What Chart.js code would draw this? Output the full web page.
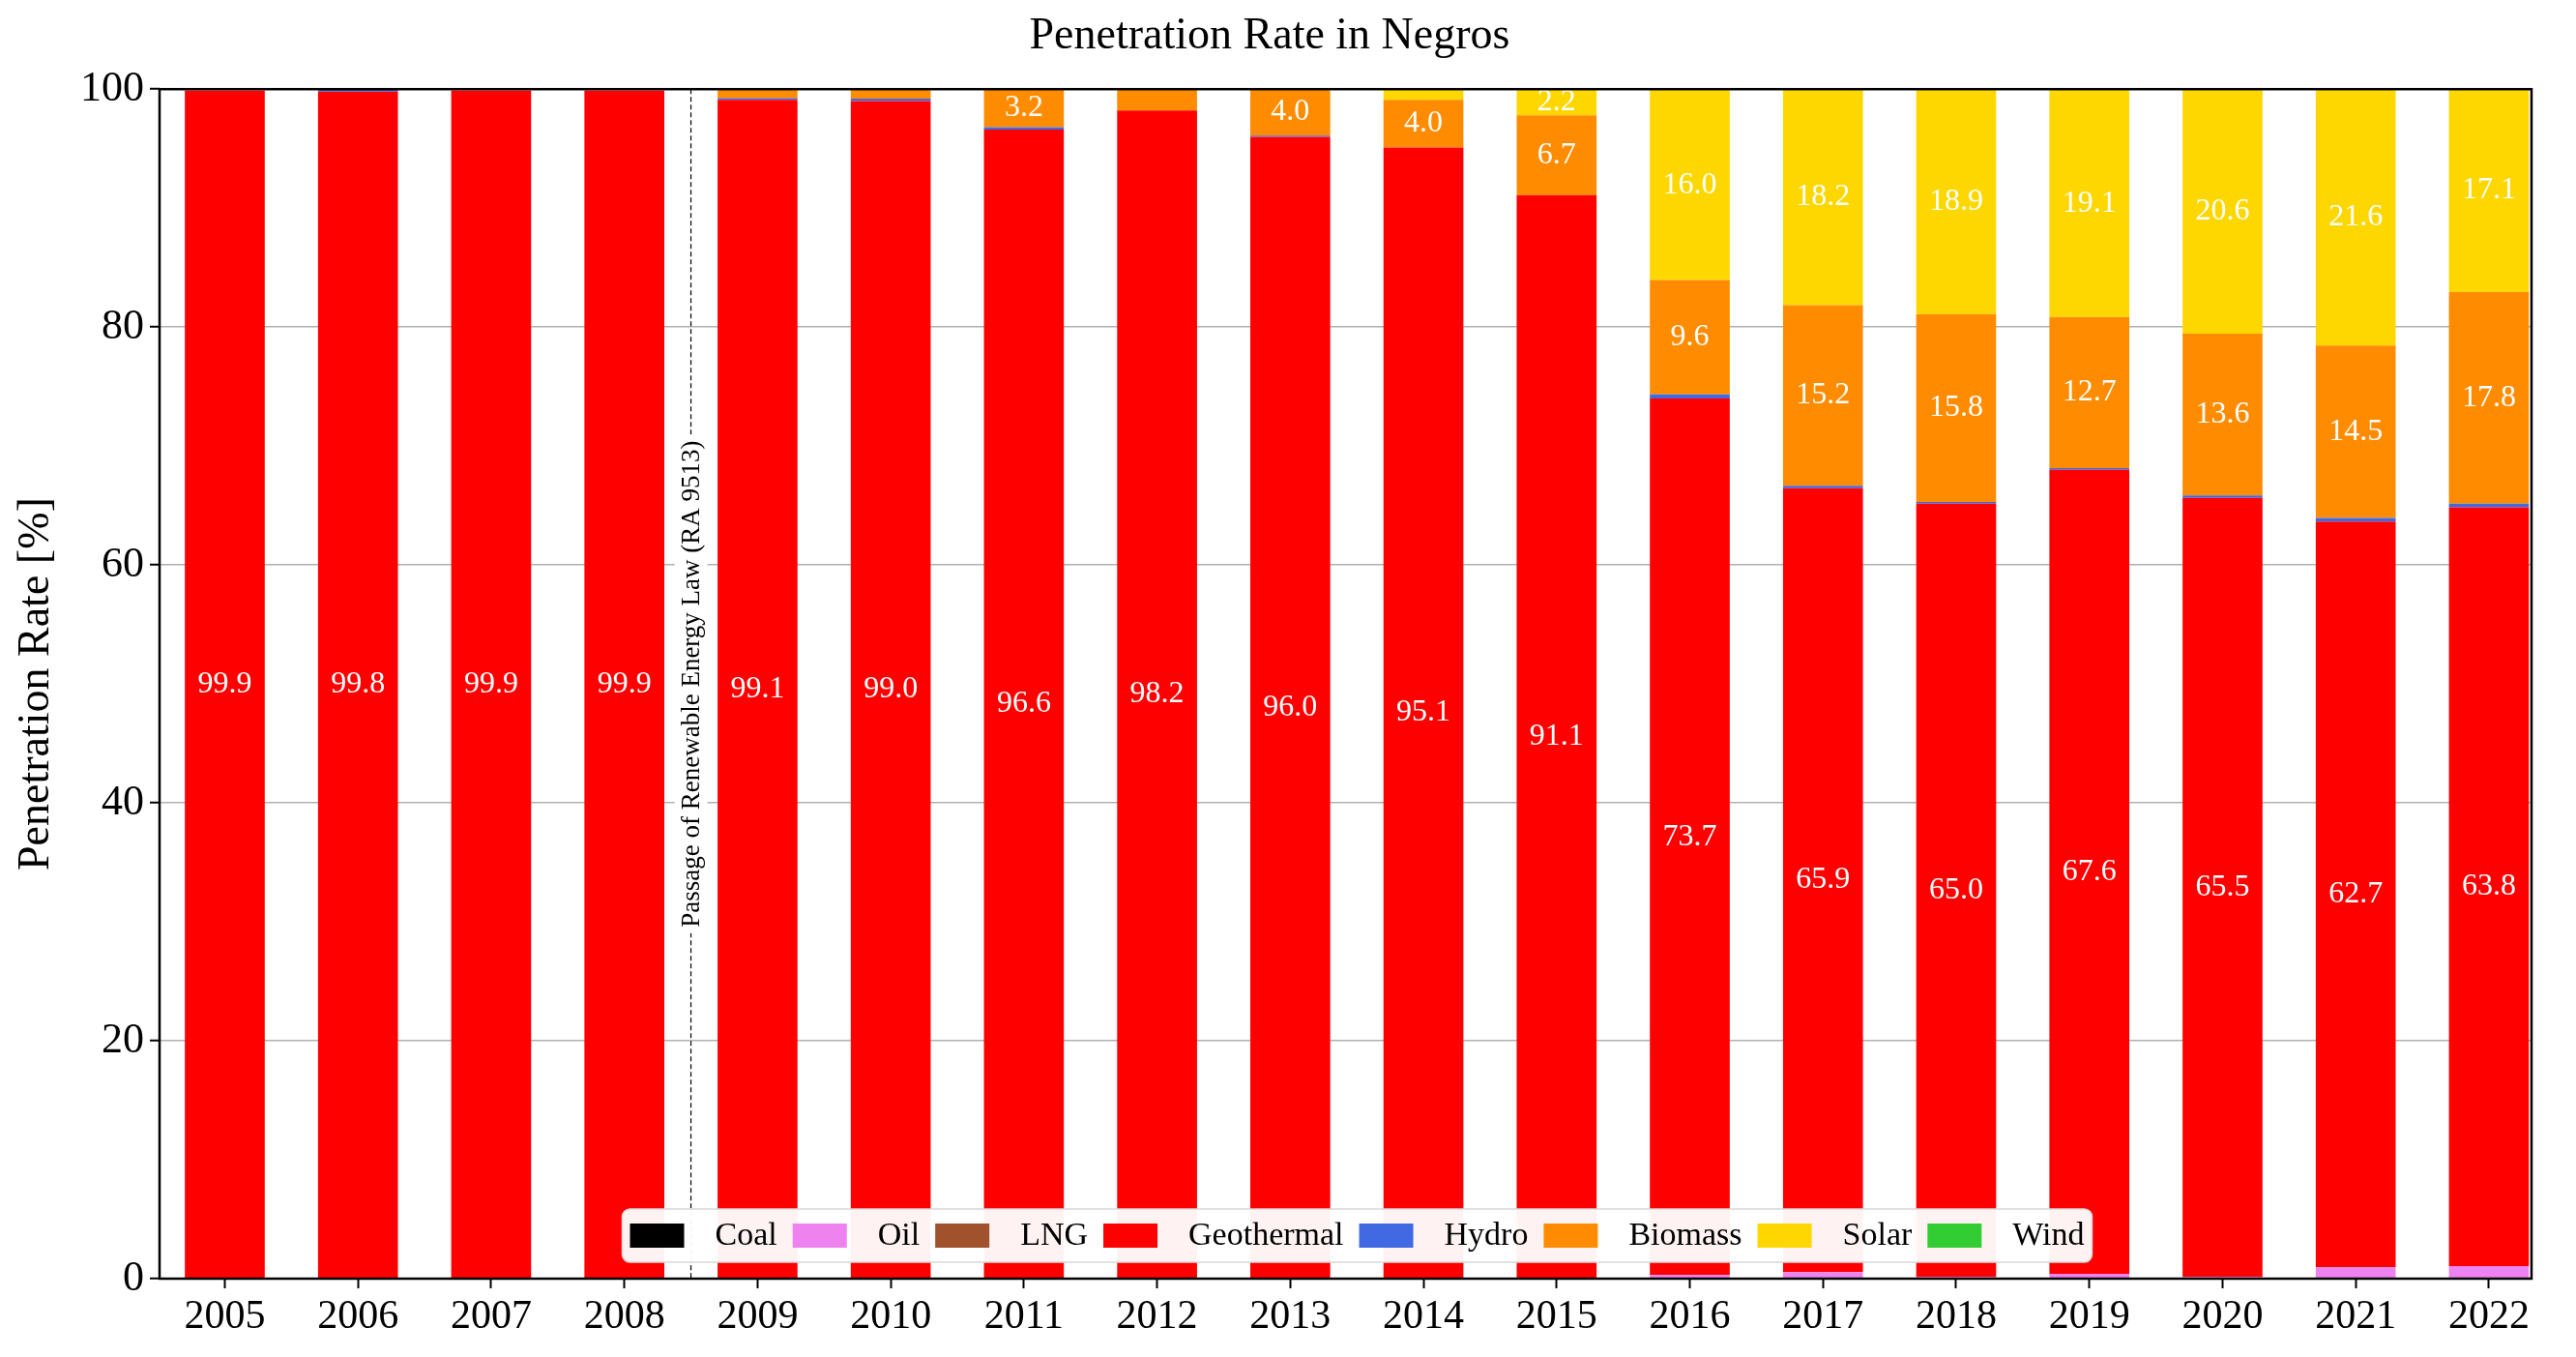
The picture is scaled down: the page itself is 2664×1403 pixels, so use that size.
<!DOCTYPE html>
<html>
<head>
<meta charset="utf-8">
<script src="https://cdn.jsdelivr.net/npm/chart.js@4.4.1/dist/chart.umd.min.js"></script>
<style>
  html, body { margin: 0; padding: 0; background: #fff; }
  #wrap { width: 2664px; height: 1403px; }
</style>
</head>
<body>
<div id="wrap"><canvas id="chart" width="2664" height="1403"></canvas></div>
<script>
const years = ['2005', '2006', '2007', '2008', '2009', '2010', '2011', '2012', '2013',
               '2014', '2015', '2016', '2017', '2018', '2019', '2020', '2021', '2022'];

// Penetration rate [%] per source
const coal       = [0, 0, 0, 0, 0, 0, 0, 0, 0, 0, 0, 0, 0, 0, 0, 0, 0, 0];
const oil        = [0, 0, 0, 0, 0, 0, 0, 0, 0, 0, 0, 0.3, 0.55, 0.15, 0.4, 0.15, 0.95, 1.05];
const lng        = [0, 0, 0, 0, 0, 0, 0, 0, 0, 0, 0, 0, 0, 0, 0, 0, 0, 0];
const geothermal = [99.9, 99.8, 99.9, 99.9, 99.1, 99.0, 96.6, 98.2, 96.0, 95.1, 91.1, 73.7, 65.9, 65.0, 67.6, 65.5, 62.7, 63.8];
const hydro      = [0, 0.2, 0, 0, 0.15, 0.2, 0.2, 0, 0.1, 0, 0, 0.35, 0.2, 0.15, 0.15, 0.2, 0.3, 0.3];
const biomass    = [0, 0, 0, 0, 0.75, 0.8, 3.2, 1.8, 4.0, 4.0, 6.7, 9.6, 15.2, 15.8, 12.7, 13.6, 14.5, 17.8];
const solar      = [0, 0, 0, 0, 0, 0, 0, 0, 0, 0.9, 2.2, 16.0, 18.2, 18.9, 19.1, 20.6, 21.6, 17.1];
const wind       = [0, 0, 0, 0, 0, 0, 0, 0, 0, 0, 0, 0, 0, 0, 0, 0, 0, 0];

const yTicks = [0, 20, 40, 60, 80, 100];
const lawLabel = 'Passage of Renewable Energy Law (RA 9513)';
const labelMin = 2;  // segments smaller than this get no value label
const xLimits = [-0.49, 17.32];  // category range shown, like the original xlim

const FONT = '"Liberation Serif", "DejaVu Serif", serif';

const series = [
  { label: 'Coal', data: coal, color: '#000000' },
  { label: 'Oil', data: oil, color: '#EE82EE' },
  { label: 'LNG', data: lng, color: '#A0522D' },
  { label: 'Geothermal', data: geothermal, color: '#FF0000' },
  { label: 'Hydro', data: hydro, color: '#4169E1' },
  { label: 'Biomass', data: biomass, color: '#FF8C00' },
  { label: 'Solar', data: solar, color: '#FFD700' },
  { label: 'Wind', data: wind, color: '#32CD32' }
];

// stretch the category axis to the same uneven limits as the original
const xRange = {
  id: 'xRange',
  afterLayout(chart) {
    const xs = chart.scales.x;
    xs._startValue = xLimits[0];
    xs._valueRange = xLimits[1] - xLimits[0];
  }
};

// value labels, frame, law marker
const overlay = {
  id: 'overlay',
  afterDatasetsDraw(chart) {
    const ctx = chart.ctx;
    const a = chart.chartArea;
    const xs = chart.scales.x;

    ctx.save();
    ctx.font = '32px ' + FONT;
    ctx.fillStyle = '#fff';
    ctx.textAlign = 'center';
    ctx.textBaseline = 'middle';
    chart.data.datasets.forEach((ds, di) => {
      chart.getDatasetMeta(di).data.forEach((bar, i) => {
        const v = ds.data[i];
        if (v < labelMin) return;
        ctx.fillText(v.toFixed(1), bar.x, (bar.y + bar.base) / 2);
      });
    });

    // law line between 2008 and 2009
    const lx = (xs.getPixelForValue(3) + xs.getPixelForValue(4)) / 2;
    ctx.strokeStyle = '#000';
    ctx.lineWidth = 1.2;
    ctx.setLineDash([5, 3]);
    ctx.beginPath();
    ctx.moveTo(lx, a.top);
    ctx.lineTo(lx, a.bottom);
    ctx.stroke();
    ctx.setLineDash([]);

    const midY = (a.top + a.bottom) / 2;
    ctx.translate(lx, midY);
    ctx.rotate(-Math.PI / 2);
    ctx.font = '27px ' + FONT;
    const w = ctx.measureText(lawLabel).width;
    ctx.fillStyle = '#fff';
    ctx.fillRect(-w / 2 - 6, -17, w + 12, 34);
    ctx.fillStyle = '#000';
    ctx.fillText(lawLabel, 0, 1);
    ctx.restore();

    ctx.save();
    ctx.strokeStyle = '#000';
    ctx.lineWidth = 2.5;
    ctx.strokeRect(a.left, a.top, a.right - a.left, a.bottom - a.top);
    ctx.restore();
  }
};

// legend box inside the plot, bottom centre, one row
const innerLegend = {
  id: 'innerLegend',
  afterDraw(chart) {
    const ctx = chart.ctx;
    const a = chart.chartArea;
    const patchW = 56, patchH = 25, textGap = 32, colGap = 16, padX = 8;
    ctx.save();
    ctx.font = '34px ' + FONT;
    const items = chart.data.datasets.map(ds => ({
      label: ds.label, color: ds.backgroundColor, tw: ctx.measureText(ds.label).width
    }));
    let total = padX * 2;
    items.forEach((it, i) => {
      total += patchW + textGap + it.tw + (i < items.length - 1 ? colGap : 0);
    });
    const boxH = 55;
    const bx = (a.left + a.right) / 2 - total / 2 + 12;
    const by = a.bottom - 17 - boxH;

    ctx.fillStyle = 'rgba(255,255,255,0.95)';
    ctx.strokeStyle = '#d8d8d8';
    ctx.lineWidth = 1.5;
    ctx.beginPath();
    ctx.roundRect(bx, by, total, boxH, 8);
    ctx.fill();
    ctx.stroke();

    let x = bx + padX;
    const cy = by + boxH / 2;
    ctx.textBaseline = 'middle';
    ctx.textAlign = 'left';
    items.forEach(it => {
      ctx.fillStyle = it.color;
      ctx.fillRect(x, cy - patchH / 2, patchW, patchH);
      x += patchW + textGap;
      ctx.fillStyle = '#000';
      ctx.fillText(it.label, x, cy + 1);
      x += it.tw + colGap;
    });
    ctx.restore();
  }
};

new Chart(document.getElementById('chart'), {
  type: 'bar',
  data: {
    labels: years,
    datasets: series.map(s => ({
      label: s.label,
      data: s.data,
      backgroundColor: s.color,
      borderWidth: 0,
      barPercentage: 0.6,
      categoryPercentage: 1.0
    }))
  },
  options: {
    responsive: false,
    animation: false,
    devicePixelRatio: 1,
    layout: { padding: { left: 8, right: 46, top: 0, bottom: 0 } },
    plugins: {
      legend: { display: false },
      tooltip: { enabled: false },
      title: {
        display: true,
        text: 'Penetration Rate in Negros',
        color: '#000',
        font: { family: FONT, size: 46, weight: 'normal', lineHeight: 1.2 },
        padding: { top: 10, bottom: 27 }
      }
    },
    scales: {
      x: {
        stacked: true,
        offset: true,
        grid: { display: true, drawOnChartArea: false, drawTicks: true, offset: false,
                tickLength: 10, tickColor: '#000', tickWidth: 2 },
        border: { display: false },
        ticks: { color: '#000', padding: 5, maxRotation: 0, autoSkip: false,
                 font: { family: FONT, size: 42 } },
        afterFit(s) { s.height = 81; }
      },
      y: {
        stacked: true,
        min: 0,
        max: 100,
        afterBuildTicks(s) { s.ticks = yTicks.map(v => ({ value: v })); },
        grid: { color: '#b0b0b0', lineWidth: 1.5, tickLength: 10, tickColor: '#000', tickWidth: 2 },
        border: { display: false },
        ticks: { color: '#000', padding: 6, font: { family: FONT, size: 44 } },
        title: {
          display: true,
          text: 'Penetration Rate [%]',
          color: '#000',
          font: { family: FONT, size: 46 },
          padding: { top: 2, bottom: 0 }
        },
        afterFit(s) { s.width = 157; }
      }
    }
  },
  plugins: [xRange, overlay, innerLegend]
});
</script>
</body>
</html>
